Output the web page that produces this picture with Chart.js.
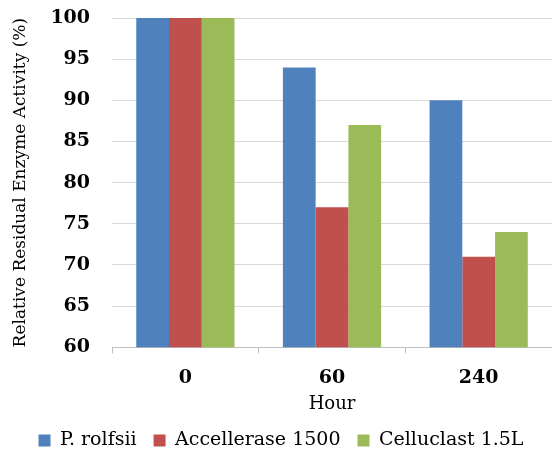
<!DOCTYPE html>
<html>
<head>
<meta charset="utf-8">
<script src="https://cdn.jsdelivr.net/npm/chart.js@4/dist/chart.umd.min.js"></script>
<style>
  html, body { margin: 0; padding: 0; background: #fff; }
  #wrap { width: 552px; height: 455px; }
</style>
</head>
<body>
<div id="wrap"><canvas id="enzymeChart"></canvas></div>
<script>
var hours = ["0", "60", "240"];
var rolfsii = [100, 94, 90];
var accellerase = [100, 77, 71];
var celluclast = [100, 87, 74];
var yMin = 60, yMax = 100, yStep = 5;

document.addEventListener('DOMContentLoaded', function () {
    var serif = "'DejaVu Serif', 'Liberation Serif', serif";

    new Chart(document.getElementById("enzymeChart"), {
        type: 'bar',
        data: {
            labels: hours,
            datasets: [
                { label: "P. rolfsii", backgroundColor: '#4f81bd', data: rolfsii },
                { label: "Accellerase 1500", backgroundColor: '#c0504d', data: accellerase },
                { label: "Celluclast 1.5L", backgroundColor: '#9bbb59', data: celluclast }
            ]
        },
        options: {
            responsive: true,
            maintainAspectRatio: false,
            animation: false,
            layout: { padding: { left: 10, right: 0, top: 18, bottom: -5 } },
            datasets: { bar: { categoryPercentage: 0.67, barPercentage: 1.0 } },
            scales: {
                x: {
                    grid: { display: true, drawOnChartArea: false, offset: true, tickLength: 6, color: '#bfbfbf' },
                    border: { display: true, color: '#bfbfbf' },
                    ticks: { color: '#000', padding: 14, font: { family: serif, size: 19, weight: 'bold', lineHeight: 1.1 } },
                    title: { display: true, text: 'Hour', color: '#000', padding: { top: -8, bottom: 0 },
                             font: { family: serif, size: 18, lineHeight: 1.1 } }
                },
                y: {
                    min: yMin, max: yMax,
                    grid: { color: '#d9d9d9', lineWidth: 1, tickLength: 20, tickColor: 'rgba(0,0,0,0)' },
                    border: { display: false },
                    ticks: { stepSize: yStep, color: '#000', padding: 2, font: { family: serif, size: 19, weight: 'bold', lineHeight: 1 } },
                    title: { display: true, text: 'Relative Residual Enzyme Activity (%)', color: '#000',
                             padding: { top: 0, bottom: 18 }, font: { family: serif, size: 17 } }
                }
            },
            plugins: {
                legend: {
                    position: 'bottom',
                    labels: { boxWidth: 12, boxHeight: 12, padding: 17, color: '#000',
                              font: { family: serif, size: 19 } }
                },
                tooltip: { enabled: false }
            }
        }
    });
});
</script>
</body>
</html>
